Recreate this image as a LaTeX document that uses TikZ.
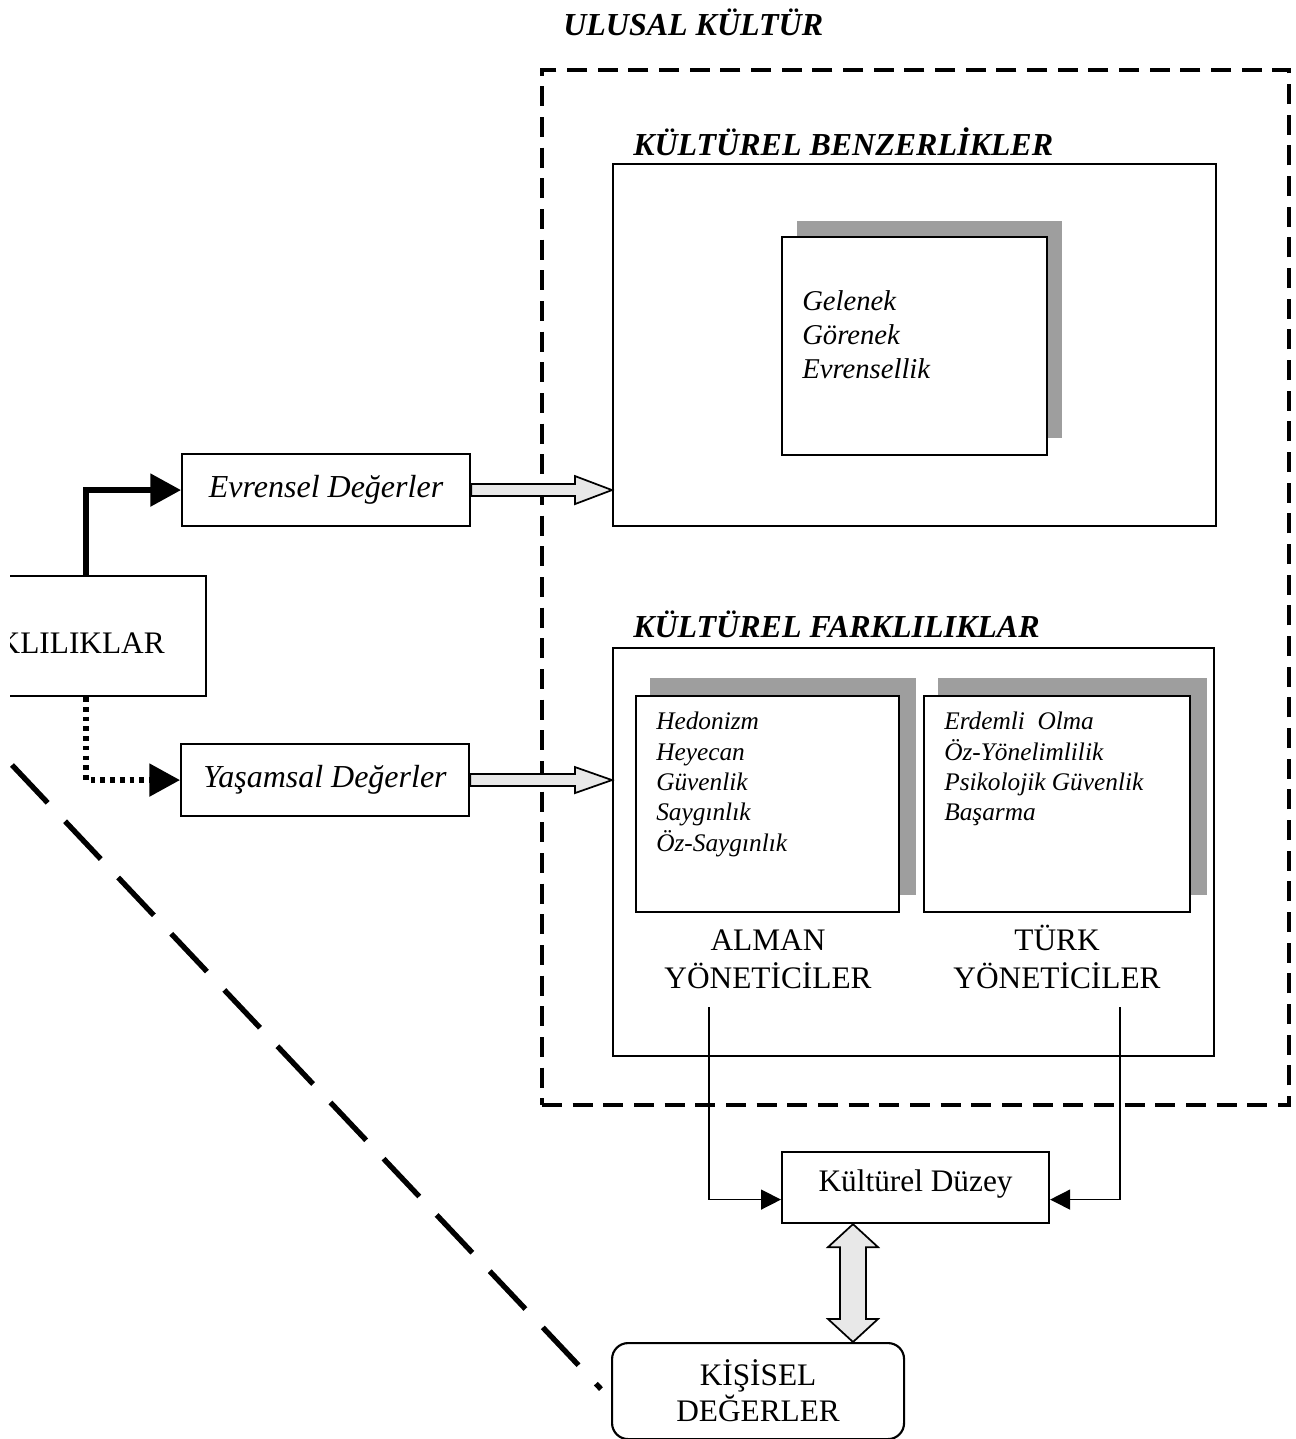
\documentclass[tikz,border=0pt]{standalone}
\usepackage{fontspec}
\setmainfont{Liberation Serif}
\usetikzlibrary{arrows.meta,calc}
\newdimen\px \px=0.75pt
\tikzset{
  box/.style={draw, line width=1.6pt, inner sep=0pt, anchor=north west},
  shadowbox/.style={fill=black!38, draw=none},
  headfont/.style={font=\fontsize{24}{28}\selectfont\bfseries\itshape, inner sep=0pt},
  listfont/.style={font=\fontsize{21.5}{25}\selectfont\itshape, inner sep=0pt},
  smalllist/.style={font=\fontsize{19}{22}\selectfont\itshape, inner sep=0pt},
  upfont/.style={font=\fontsize{23.5}{28}\selectfont, inner sep=0pt},
  thin/.style={line width=1.1pt},
  hollow/.style={draw, line width=1.3pt, fill=black!9, line join=miter},
}
\begin{document}
\begin{tikzpicture}[x=0.75pt,y=-0.75pt]
\useasboundingbox (0,0) rectangle (1296,1439);
\begin{scope}
\clip (10,0) rectangle (1296,1439);

% outer dashed national-culture frame
\node[draw, line width=3pt, dash pattern=on 15pt off 8pt, inner sep=0pt, anchor=north west,
      minimum width=747\px, minimum height=1035\px] (ulu) at (540,68) {};
\node[headfont, anchor=base west] (ulut) at (563,35) {ULUSAL KÜLTÜR};

% Benzerlikler
\node[headfont, anchor=base west] (bent) at (633,155) {KÜLTÜREL BENZERLİKLER};
\node[box, minimum width=603\px, minimum height=362\px] (ben) at (612,163) {};
\fill[shadowbox] (797,221) rectangle (1062,438);
\node[box, fill=white, minimum width=265\px, minimum height=218\px] (benin) at (781,236) {};
\node[listfont, anchor=base west] (g1) at (802,310) {Gelenek};
\node[listfont, anchor=base west] (g2) at (802,344) {Görenek};
\node[listfont, anchor=base west] (g3) at (802,378) {Evrensellik};

% Farklılıklar
\node[headfont, anchor=base west] (fart) at (633,637) {KÜLTÜREL FARKLILIKLAR};
\node[box, minimum width=601\px, minimum height=408\px] (far) at (612,647) {};
\fill[shadowbox] (650,678) rectangle (916,895);
\node[box, fill=white, minimum width=263\px, minimum height=216\px] (alm) at (635,695) {};
\fill[shadowbox] (938,678) rectangle (1207,895);
\node[box, fill=white, minimum width=266\px, minimum height=216\px] (tur) at (923,695) {};
\node[smalllist, anchor=base west] (a1) at (656,729) {Hedonizm};
\node[smalllist, anchor=base west] (a2) at (656,760) {Heyecan};
\node[smalllist, anchor=base west] (a3) at (656,790) {Güvenlik};
\node[smalllist, anchor=base west] (a4) at (656,820) {Saygınlık};
\node[smalllist, anchor=base west] (a5) at (656,851) {Öz-Saygınlık};
\node[smalllist, anchor=base west] (t1) at (944,729) {Erdemli\ \ Olma};
\node[smalllist, anchor=base west] (t2) at (944,760) {Öz-Yönelimlilik};
\node[smalllist, anchor=base west] (t3) at (944,790) {Psikolojik Güvenlik};
\node[smalllist, anchor=base west] (t4) at (944,820) {Başarma};
\node[upfont, anchor=base] (almt1) at (768,950) {ALMAN};
\node[upfont, anchor=base] (almt2) at (768,988) {YÖNETİCİLER};
\node[upfont, anchor=base] (turt1) at (1057,950) {TÜRK};
\node[upfont, anchor=base] (turt2) at (1057,988) {YÖNETİCİLER};

% left side
\node[box, minimum width=265\px, minimum height=120\px] (lft) at (-60,575) {};
\node[upfont, anchor=base east] (lftt) at (165,653) {FARKLILIKLAR};
\node[box, minimum width=288\px, minimum height=72\px] (evr) at (181,453) {};
\node[listfont, font=\fontsize{24}{28}\selectfont\itshape] at (evr.center) {Evrensel Değerler};
\node[box, minimum width=288\px, minimum height=72\px] (yas) at (180,743) {};
\node[listfont, font=\fontsize{24}{28}\selectfont\itshape] at (yas.center) {Yaşamsal Değerler};

\coordinate (lx) at (86,0);
\draw[line width=4pt, -{Triangle[length=23pt,width=24pt]}]
  (lft.north -| lx) |- (evr.west);
\draw[line width=4pt, dash pattern=on 3.5pt off 3.8pt, -{Triangle[length=23pt,width=24pt]}]
  (lft.south -| lx) |- (yas.west);

% hollow arrows into the culture boxes
\coordinate (h1) at (evr.east -| ben.west);
\draw[hollow] ($(evr.east)+(0,-6)$) -- ($(h1)+(-37,-6)$) -- ($(h1)+(-37,-14)$) -- (h1)
  -- ($(h1)+(-37,14)$) -- ($(h1)+(-37,6)$) -- ($(evr.east)+(0,6)$) -- cycle;
\coordinate (h2) at (yas.east -| far.west);
\draw[hollow] ($(yas.east)+(0,-6)$) -- ($(h2)+(-37,-6)$) -- ($(h2)+(-37,-13)$) -- (h2)
  -- ($(h2)+(-37,13)$) -- ($(h2)+(-37,6)$) -- ($(yas.east)+(0,6)$) -- cycle;

% Kültürel Düzey
\node[box, minimum width=267\px, minimum height=71\px] (kd) at (781,1151) {};
\node[upfont, anchor=base] (kdt) at ($(kd.center)+(0,4)$) {Kültürel Düzey};
\coordinate (la) at (709,1007);
\coordinate (lb) at (1120,1007);
\draw[thin, -{Triangle[length=15pt,width=15pt]}] (la) |- ($(kd.west)+(0,12)$);
\draw[thin, -{Triangle[length=15pt,width=15pt]}] (lb) |- ($(kd.east)+(0,12)$);

% Kişisel Değerler
\node[draw, line width=1.6pt, rounded corners=12pt, inner sep=0pt, anchor=north west,
      minimum width=292\px, minimum height=96\px] (kis) at (611,1342) {};
\node[upfont, align=center, font=\fontsize{23.5}{27}\selectfont] (kist) at (kis.center) {KİŞİSEL\\DEĞERLER};

% double block arrow
\coordinate (vx) at (853,0);
\coordinate (va) at (kd.south -| vx);
\coordinate (vb) at (kis.north -| vx);
\draw[hollow] (va) -- ($(va)+(25,23)$) -- ($(va)+(13,23)$) -- ($(vb)+(13,-23)$) -- ($(vb)+(25,-23)$)
  -- (vb) -- ($(vb)+(-25,-23)$) -- ($(vb)+(-13,-23)$) -- ($(va)+(-13,23)$) -- ($(va)+(-25,23)$) -- cycle;

% long dashed diagonal
\coordinate (d1) at (12,765);
\draw[line width=4pt, dash pattern=on 39pt off 19pt] (d1) -- ($(kis.west)+(-10,-2)$);
\end{scope}
\end{tikzpicture}
\end{document}
